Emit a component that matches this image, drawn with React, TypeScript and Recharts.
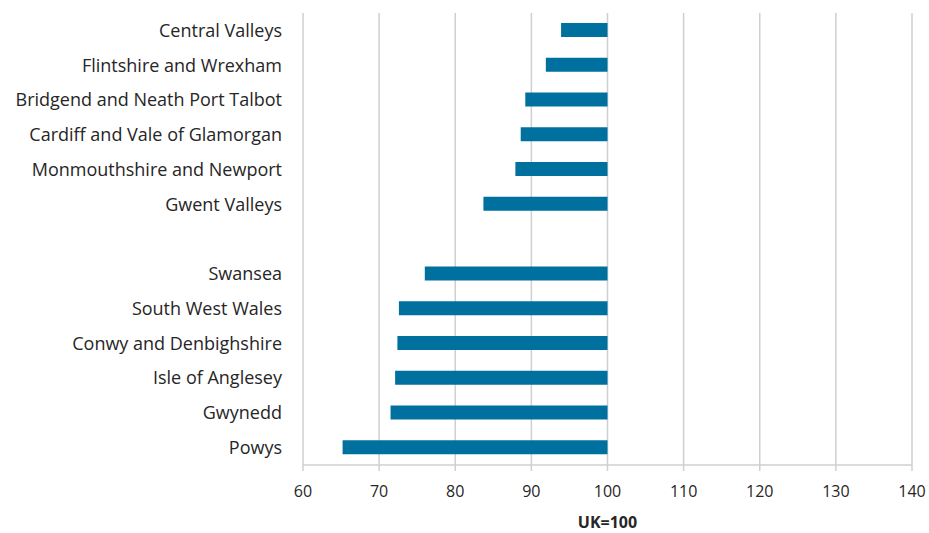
import React from "react";
import { BarChart, Bar, XAxis, YAxis, CartesianGrid } from "recharts";

// regions top to bottom, "" is the blank spacer row
const regions = [
  "Central Valleys",
  "Flintshire and Wrexham",
  "Bridgend and Neath Port Talbot",
  "Cardiff and Vale of Glamorgan",
  "Monmouthshire and Newport",
  "Gwent Valleys",
  "",
  "Swansea",
  "South West Wales",
  "Conwy and Denbighshire",
  "Isle of Anglesey",
  "Gwynedd",
  "Powys",
];

const index = [93.9, 91.9, 89.2, 88.6, 87.9, 83.7, null, 76.0, 72.6, 72.4, 72.1, 71.5, 65.2];

const UK = 100;
const xTicks = [60, 70, 80, 90, 100, 110, 120, 130, 140];

const data = regions.map((name, i) => ({
  name,
  range: index[i] == null ? null : [index[i], UK],
}));

const FONT = "'Open Sans', Lato, sans-serif";

export default function App() {
  return (
    <div style={{ position: "absolute", left: 0, top: 0, width: 929, height: 533, background: "#fff" }}>
      <BarChart
        width={929}
        height={533}
        data={data}
        layout="vertical"
        margin={{ top: 13, right: 17, bottom: 0, left: 0 }}
        barSize={14}
      >
        <CartesianGrid horizontal={false} stroke="#cfcfcf" strokeWidth={1.5} />
        <XAxis
          type="number"
          domain={[60, 140]}
          ticks={xTicks}
          height={68}
          axisLine={{ stroke: "#cfcfcf", strokeWidth: 1.5 }}
          tickLine={{ stroke: "#cfcfcf", strokeWidth: 1.5 }}
          tickSize={6}
          tickMargin={15}
          tick={{ fill: "#262626", fontSize: 16, fontFamily: FONT }}
          label={{
            value: "UK=100",
            position: "insideBottom",
            offset: 5,
            style: { fill: "#262626", fontSize: 16, fontWeight: 700, fontFamily: FONT },
          }}
        />
        <YAxis
          type="category"
          dataKey="name"
          width={303}
          axisLine={false}
          tickLine={false}
          tickSize={0}
          tickMargin={21}
          interval={0}
          tick={{ fill: "#262626", fontSize: 18, fontFamily: FONT }}
        />
        <Bar dataKey="range" fill="#00719e" isAnimationActive={false} />
      </BarChart>
    </div>
  );
}
